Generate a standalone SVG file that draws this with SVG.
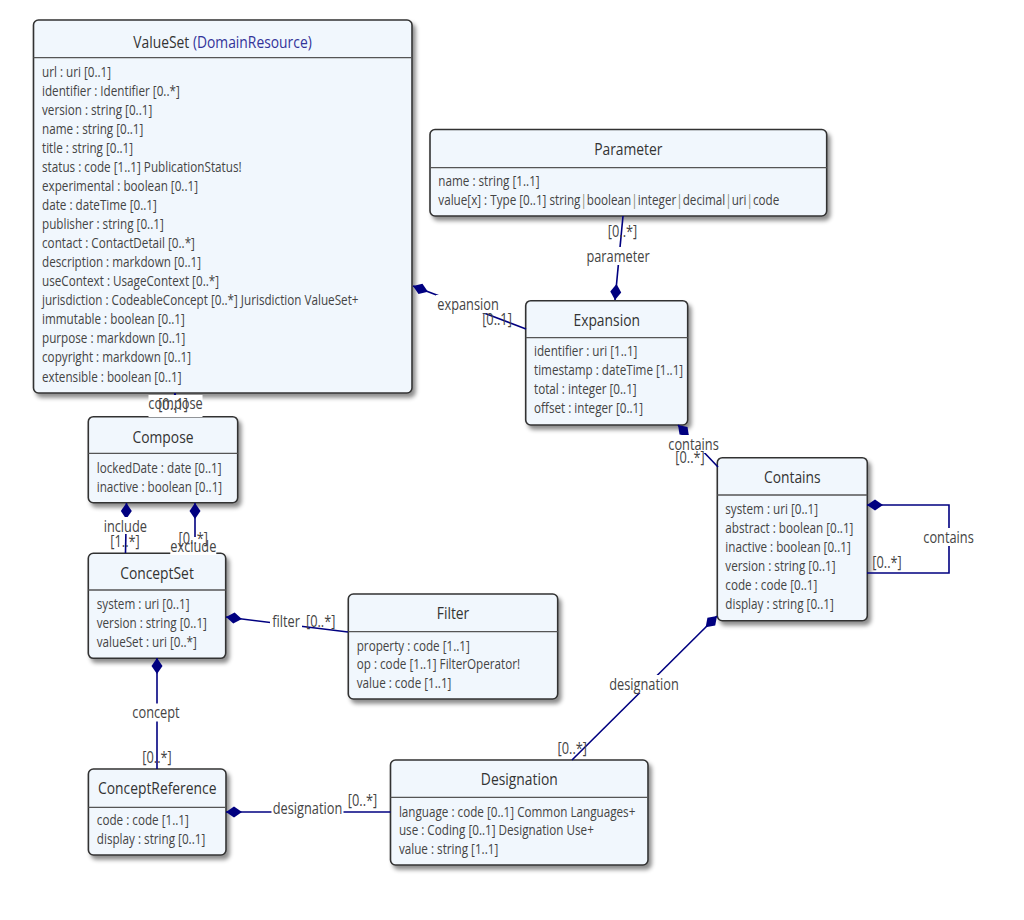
<svg xmlns="http://www.w3.org/2000/svg" width="1024" height="920" viewBox="0 0 1024 920">
<defs>
<filter id="sh" x="-10%" y="-10%" width="130%" height="130%">
<feDropShadow dx="3" dy="4" stdDeviation="2" flood-color="#000" flood-opacity="0.45"/>
</filter>
<marker id="dia" viewBox="0 0 16 12" markerWidth="16" markerHeight="12" refX="0" refY="6" orient="auto" markerUnits="userSpaceOnUse">
<path d="M0,6 L8,0.5 L16,6 L8,11.5 Z" fill="#000080"/>
</marker>
<style>
.box{fill:#f1f7fd;stroke:#333;stroke-width:1.6;filter:url(#sh)}
.sep{stroke:#555;stroke-width:1.3}
text{font-family:"Open Sans","Noto Sans",sans-serif}
.h{font-size:17px;fill:#333;text-anchor:middle}
.b{font-size:15px;fill:#444}
.l{font-size:16px;fill:#444;text-anchor:middle}
.c{font-size:16px;fill:#444;text-anchor:middle}
.ln{fill:none;stroke:#000080;stroke-width:1.6}
.bg{fill:#fff}
.dr{fill:#333399}
.p{fill:#8a8a70}
</style>
</defs>
<rect width="1024" height="920" fill="#fff"/>

<g id="ValueSet">
<rect class="box" x="33.5" y="20" width="378.5" height="373" rx="5"/>
<line class="sep" x1="33.5" y1="57.7" x2="412" y2="57.7"/>
<text class="h" transform="translate(222.5,47.5) scale(0.815,1)">ValueSet <tspan class="dr">(DomainResource)</tspan></text>
<text class="b" transform="translate(42,76.5) scale(0.78,1)">url : uri [0..1]</text>
<text class="b" transform="translate(42,95.6) scale(0.78,1)">identifier : Identifier [0..*]</text>
<text class="b" transform="translate(42,114.6) scale(0.78,1)">version : string [0..1]</text>
<text class="b" transform="translate(42,133.7) scale(0.78,1)">name : string [0..1]</text>
<text class="b" transform="translate(42,152.7) scale(0.78,1)">title : string [0..1]</text>
<text class="b" transform="translate(42,171.8) scale(0.78,1)">status : code [1..1] PublicationStatus!</text>
<text class="b" transform="translate(42,190.9) scale(0.78,1)">experimental : boolean [0..1]</text>
<text class="b" transform="translate(42,209.9) scale(0.78,1)">date : dateTime [0..1]</text>
<text class="b" transform="translate(42,229) scale(0.78,1)">publisher : string [0..1]</text>
<text class="b" transform="translate(42,248) scale(0.78,1)">contact : ContactDetail [0..*]</text>
<text class="b" transform="translate(42,267.1) scale(0.78,1)">description : markdown [0..1]</text>
<text class="b" transform="translate(42,286.2) scale(0.78,1)">useContext : UsageContext [0..*]</text>
<text class="b" transform="translate(42,305.2) scale(0.78,1)">jurisdiction : CodeableConcept [0..*] Jurisdiction ValueSet+</text>
<text class="b" transform="translate(42,324.3) scale(0.78,1)">immutable : boolean [0..1]</text>
<text class="b" transform="translate(42,343.3) scale(0.78,1)">purpose : markdown [0..1]</text>
<text class="b" transform="translate(42,362.4) scale(0.78,1)">copyright : markdown [0..1]</text>
<text class="b" transform="translate(42,381.5) scale(0.78,1)">extensible : boolean [0..1]</text>
</g>

<g id="Parameter">
<rect class="box" x="430" y="129.5" width="396.7" height="86.5" rx="5"/>
<line class="sep" x1="430" y1="167.7" x2="826.7" y2="167.7"/>
<text class="h" transform="translate(628.3,155.3) scale(0.815,1)">Parameter</text>
<text class="b" transform="translate(438.3,186) scale(0.78,1)">name : string [1..1]</text>
<text class="b" transform="translate(438.3,205) scale(0.78,1)">value[x] : Type [0..1] string<tspan class="p">|</tspan>boolean<tspan class="p">|</tspan>integer<tspan class="p">|</tspan>decimal<tspan class="p">|</tspan>uri<tspan class="p">|</tspan>code</text>
</g>

<g id="Expansion">
<rect class="box" x="525.7" y="300.7" width="162" height="124.3" rx="5"/>
<line class="sep" x1="525.7" y1="337.7" x2="687.7" y2="337.7"/>
<text class="h" transform="translate(606.7,326) scale(0.815,1)">Expansion</text>
<text class="b" transform="translate(534,356) scale(0.78,1)">identifier : uri [1..1]</text>
<text class="b" transform="translate(534,375) scale(0.78,1)">timestamp : dateTime [1..1]</text>
<text class="b" transform="translate(534,394) scale(0.78,1)">total : integer [0..1]</text>
<text class="b" transform="translate(534,413) scale(0.78,1)">offset : integer [0..1]</text>
</g>

<g id="Contains">
<rect class="box" x="717.3" y="457.7" width="150" height="163" rx="5"/>
<line class="sep" x1="717.3" y1="495" x2="867.3" y2="495"/>
<text class="h" transform="translate(792.3,483.3) scale(0.815,1)">Contains</text>
<text class="b" transform="translate(725.3,514.3) scale(0.78,1)">system : uri [0..1]</text>
<text class="b" transform="translate(725.3,533.3) scale(0.78,1)">abstract : boolean [0..1]</text>
<text class="b" transform="translate(725.3,552.3) scale(0.78,1)">inactive : boolean [0..1]</text>
<text class="b" transform="translate(725.3,571) scale(0.78,1)">version : string [0..1]</text>
<text class="b" transform="translate(725.3,590) scale(0.78,1)">code : code [0..1]</text>
<text class="b" transform="translate(725.3,609) scale(0.78,1)">display : string [0..1]</text>
</g>

<g id="Compose">
<rect class="box" x="88.3" y="416.7" width="149.4" height="86" rx="5"/>
<line class="sep" x1="88.3" y1="453.3" x2="237.7" y2="453.3"/>
<text class="h" transform="translate(163,442.7) scale(0.815,1)">Compose</text>
<text class="b" transform="translate(96.7,473.3) scale(0.78,1)">lockedDate : date [0..1]</text>
<text class="b" transform="translate(96.7,491.7) scale(0.78,1)">inactive : boolean [0..1]</text>
</g>

<g id="ConceptSet">
<rect class="box" x="88.3" y="553.3" width="137.4" height="105" rx="5"/>
<line class="sep" x1="88.3" y1="590" x2="225.7" y2="590"/>
<text class="h" transform="translate(157,578.7) scale(0.815,1)">ConceptSet</text>
<text class="b" transform="translate(96.7,609) scale(0.78,1)">system : uri [0..1]</text>
<text class="b" transform="translate(96.7,628.3) scale(0.78,1)">version : string [0..1]</text>
<text class="b" transform="translate(96.7,647.3) scale(0.78,1)">valueSet : uri [0..*]</text>
</g>

<g id="Filter">
<rect class="box" x="348.3" y="594" width="209.4" height="105" rx="5"/>
<line class="sep" x1="348.3" y1="631.7" x2="557.7" y2="631.7"/>
<text class="h" transform="translate(453,619.3) scale(0.815,1)">Filter</text>
<text class="b" transform="translate(356.7,650.7) scale(0.78,1)">property : code [1..1]</text>
<text class="b" transform="translate(356.7,669.3) scale(0.78,1)">op : code [1..1] FilterOperator!</text>
<text class="b" transform="translate(356.7,688.3) scale(0.78,1)">value : code [1..1]</text>
</g>

<g id="ConceptReference">
<rect class="box" x="88.4" y="769" width="137.6" height="86" rx="5"/>
<line class="sep" x1="88.4" y1="807.3" x2="226" y2="807.3"/>
<text class="h" transform="translate(157.2,794.3) scale(0.815,1)">ConceptReference</text>
<text class="b" transform="translate(96.8,825) scale(0.78,1)">code : code [1..1]</text>
<text class="b" transform="translate(96.8,844.3) scale(0.78,1)">display : string [0..1]</text>
</g>

<g id="Designation">
<rect class="box" x="390.5" y="760" width="257.5" height="105" rx="5"/>
<line class="sep" x1="390.5" y1="797.3" x2="648" y2="797.3"/>
<text class="h" transform="translate(519.3,785.3) scale(0.815,1)">Designation</text>
<text class="b" transform="translate(398.9,816.7) scale(0.78,1)">language : code [0..1] Common Languages+</text>
<text class="b" transform="translate(398.9,835) scale(0.78,1)">use : Coding [0..1] Designation Use+</text>
<text class="b" transform="translate(398.9,854) scale(0.78,1)">value : string [1..1]</text>
</g>

<g id="connectors">
<path class="ln" marker-start="url(#dia)" d="M413,286 L526,329"/>
<path class="ln" marker-start="url(#dia)" d="M615,300 L623,216"/>
<path class="ln" marker-start="url(#dia)" d="M678,425 L718,467"/>
<path class="ln" marker-start="url(#dia)" d="M867,505 L949,505 L949,573 L867,573"/>
<path class="ln" marker-start="url(#dia)" d="M717,616 L572,760"/>
<path class="ln" marker-start="url(#dia)" d="M175,393 L175,417"/>
<path class="ln" marker-start="url(#dia)" d="M126.5,503 L125.5,553"/>
<path class="ln" marker-start="url(#dia)" d="M195,503 L195,553"/>
<path class="ln" marker-start="url(#dia)" d="M226,617 L348,632"/>
<path class="ln" marker-start="url(#dia)" d="M157,658 L157,769"/>
<path class="ln" marker-start="url(#dia)" d="M226,812 L390.5,812"/>

<rect class="bg" x="436" y="295" width="64" height="18"/>
<text class="l" transform="translate(468,309.5) scale(0.8,1)">expansion</text>
<text class="c" transform="translate(497,325) scale(0.8,1)">[0..1]</text>

<rect class="bg" x="586" y="247" width="64" height="18"/>
<text class="l" transform="translate(618,261.5) scale(0.8,1)">parameter</text>
<text class="c" transform="translate(622.5,236.5) scale(0.8,1)">[0..*]</text>

<rect class="bg" x="667.5" y="435" width="52" height="18"/>
<text class="l" transform="translate(693.5,449.5) scale(0.8,1)">contains</text>
<text class="c" transform="translate(690,462.5) scale(0.8,1)">[0..*]</text>

<rect class="bg" x="922.5" y="528" width="52" height="18"/>
<text class="l" transform="translate(948.5,542.5) scale(0.8,1)">contains</text>
<text class="c" transform="translate(887,568) scale(0.8,1)">[0..*]</text>

<rect class="bg" x="608" y="675" width="72" height="18"/>
<text class="l" transform="translate(644,689.5) scale(0.8,1)">designation</text>
<text class="c" transform="translate(572.3,753.5) scale(0.8,1)">[0..*]</text>

<rect class="bg" x="148.5" y="395" width="54" height="22"/>
<text class="l" transform="translate(175.5,409) scale(0.8,1)">compose</text>
<text class="c" transform="translate(173,409.5) scale(0.8,1)">[0..1]</text>

<rect class="bg" x="102.3" y="517" width="46" height="17"/>
<text class="l" transform="translate(125.3,531.5) scale(0.8,1)">include</text>
<text class="c" transform="translate(125,547) scale(0.8,1)">[1..*]</text>

<rect class="bg" x="170.3" y="537" width="46" height="18"/>
<text class="c" transform="translate(193.3,543.5) scale(0.8,1)">[0..*]</text>
<text class="l" transform="translate(193.3,551.5) scale(0.8,1)">exclude</text>

<rect class="bg" x="270" y="612.5" width="32" height="18"/>
<text class="l" transform="translate(286,627) scale(0.8,1)">filter</text>
<text class="c" transform="translate(320.7,626.5) scale(0.8,1)">[0..*]</text>

<rect class="bg" x="131" y="703.5" width="50" height="18"/>
<text class="l" transform="translate(156,718) scale(0.8,1)">concept</text>
<text class="c" transform="translate(157,762.8) scale(0.8,1)">[0..*]</text>

<rect class="bg" x="271.5" y="799" width="72" height="18"/>
<text class="l" transform="translate(307.5,813.5) scale(0.8,1)">designation</text>
<text class="c" transform="translate(362.5,805.5) scale(0.8,1)">[0..*]</text>
</g>
</svg>
